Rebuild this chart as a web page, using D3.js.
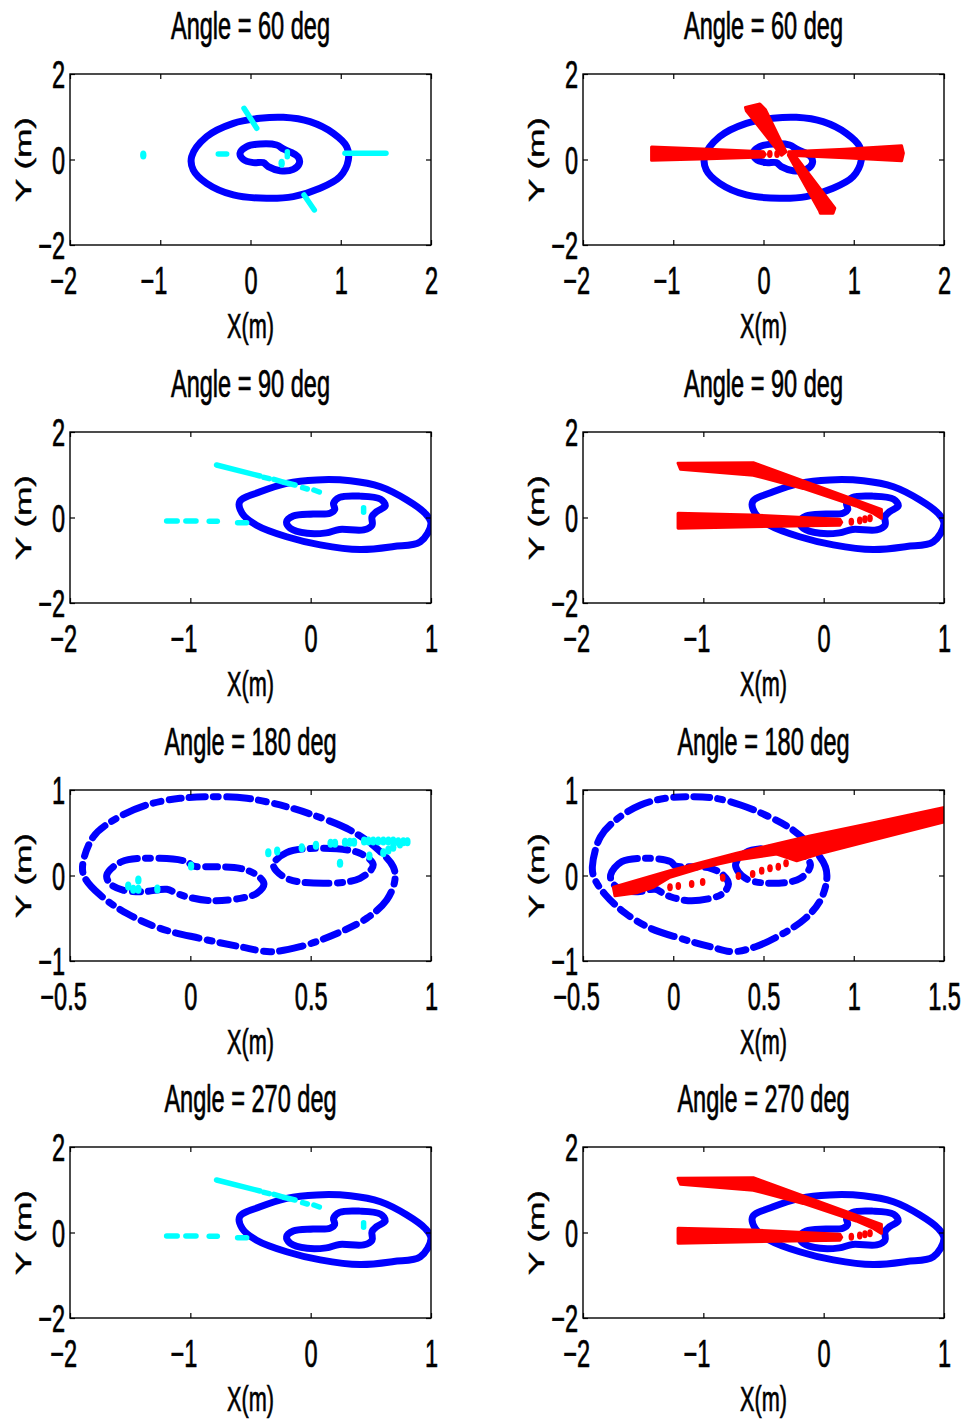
<!DOCTYPE html>
<html>
<head>
<meta charset="utf-8">
<script src="https://cdn.jsdelivr.net/npm/d3@7"></script>
<style>
  body { margin: 0; background: #fff; }
  text { stroke: #000; stroke-width: 0.7px; }
</style>
</head>
<body>
<svg id="fig" width="964" height="1428"></svg>
<script>
// ---- data ----
var titles = ["Angle = 60 deg", "Angle = 60 deg", "Angle = 90 deg", "Angle = 90 deg",
              "Angle = 180 deg", "Angle = 180 deg", "Angle = 270 deg", "Angle = 270 deg"];

var xTicks60 = [-2, -1, 0, 1, 2];
var xTicks90 = [-2, -1, 0, 1];
var xTicks180L = [-0.5, 0, 0.5, 1];
var xTicks180R = [-0.5, 0, 0.5, 1, 1.5];
var yTicks2 = [-2, 0, 2];
var yTicks1 = [-1, 0, 1];

// blue contours (x, y in metres)
var outer60 = [[-0.652,0.066],[-0.486,0.534],[-0.19,0.846],[0.105,0.963],[0.364,0.986],[0.659,0.885],
  [0.918,0.612],[1.066,0.3],[1.084,-0.012],[0.992,-0.402],[0.77,-0.674],[0.474,-0.869],[0.179,-0.908],
  [-0.19,-0.83],[-0.486,-0.558],[-0.634,-0.246]];
var inner60 = [[-0.116,0.145],[-0.042,0.3],[0.105,0.363],[0.29,0.339],[0.364,0.246],[0.456,0.16],
  [0.53,0.051],[0.541,-0.089],[0.474,-0.23],[0.327,-0.261],[0.197,-0.168],[0.142,-0.074],[0.031,-0.074],[-0.08,0.004]];

var outer90 = [[-0.59,0.37],[-0.42,0.6],[-0.2,0.8],[0.05,0.88],[0.33,0.86],[0.58,0.72],[0.8,0.41],
  [0.95,0.1],[1.0,-0.14],[0.91,-0.57],[0.69,-0.68],[0.41,-0.75],[0.08,-0.64],[-0.2,-0.45],[-0.45,-0.18],[-0.57,0.1]];
var inner90 = [[-0.2,-0.1],[-0.145,0.035],[0.02,0.08],[0.16,0.1],[0.2,0.19],[0.19,0.33],[0.24,0.47],
  [0.41,0.5],[0.58,0.43],[0.62,0.27],[0.55,0.14],[0.51,0.02],[0.51,-0.18],[0.44,-0.29],[0.24,-0.28],
  [0.13,-0.36],[-0.03,-0.37],[-0.17,-0.25]];

var outer180 = [[-0.448,0.103],[-0.403,0.454],[-0.306,0.669],[-0.181,0.825],[-0.043,0.903],[0.11,0.922],
  [0.235,0.903],[0.373,0.825],[0.51,0.708],[0.663,0.532],[0.774,0.318],[0.843,0.103],[0.85,-0.053],
  [0.816,-0.287],[0.733,-0.5],[0.594,-0.696],[0.456,-0.833],[0.331,-0.891],[0.207,-0.833],[0.04,-0.735],
  [-0.126,-0.618],[-0.265,-0.442],[-0.375,-0.228],[-0.437,-0.033]];
var innerL180 = [[-0.347,0.006],[-0.285,0.162],[-0.126,0.201],[-0.015,0.162],[0.012,0.111],[0.096,0.103],
  [0.207,0.084],[0.276,0.006],[0.306,-0.099],[0.276,-0.208],[0.207,-0.267],[0.082,-0.294],[-0.015,-0.248],
  [-0.057,-0.208],[-0.098,-0.161],[-0.195,-0.189],[-0.28,-0.17],[-0.335,-0.091]];
var innerR180 = [[0.345,0.123],[0.4,0.267],[0.553,0.318],[0.705,0.26],[0.76,0.123],[0.705,-0.033],
  [0.553,-0.091],[0.4,-0.033]];

// cyan marks: segments [x1, y1, x2, y2] and dots [x, y]
var cyan60Segs = [[-0.357,0.129,-0.264,0.129],[-0.072,1.198,0.069,0.73],[1.047,0.145,1.501,0.145],
  [0.593,-0.83,0.707,-1.18],[0.408,0.18,0.408,0.066]];
var cyan60Dots = [[-1.188,0.105],[0.345,-0.09]];

var cyan90Segs = [[-0.782,1.228,-0.421,0.971],[-0.388,0.94,-0.344,0.908],[-0.305,0.893,-0.249,0.846],
  [-0.233,0.83,-0.13,0.76],[-0.067,0.698,-0.028,0.667],[0.027,0.643,0.072,0.597],
  [-1.197,-0.082,-1.109,-0.082],[-1.037,-0.082,-0.953,-0.082],[-0.843,-0.09,-0.776,-0.09],
  [-0.607,-0.12,-0.532,-0.12],[0.44,0.23,0.44,0.12]];

var cyan180Dots = [[-0.258,-0.123],[-0.237,-0.162],[-0.216,-0.162],[-0.216,-0.053],[-0.137,-0.158],
  [0.003,0.111],[0.324,0.267],[0.361,0.287],[0.463,0.325],[0.522,0.353],[0.583,0.376],[0.601,0.376],
  [0.643,0.388],[0.663,0.388],[0.68,0.388],[0.722,0.403],[0.74,0.403],[0.76,0.403],[0.781,0.403],
  [0.802,0.403],[0.823,0.403],[0.843,0.403],[0.864,0.396],[0.885,0.396],[0.902,0.396],[0.871,0.368],
  [0.843,0.33],[0.823,0.298],[0.802,0.267],[0.744,0.228],[0.622,0.143]];

// red wedges (polygons) and red dots
var red60Wedges = [
  [[-1.24,0.29],[-0.6,0.24],[0.0,0.18],[0.02,0.12],[0.0,0.06],[-0.6,0.02],[-1.24,-0.02]],
  [[0.28,0.18],[0.9,0.24],[1.53,0.32],[1.55,0.15],[1.53,-0.03],[0.9,0.04],[0.28,0.1]],
  [[-0.2,1.22],[-0.04,1.3],[0.02,1.17],[0.25,0.18],[0.2,0.1],[-0.19,1.14]],
  [[0.275,0.105],[0.33,0.145],[0.79,-1.14],[0.77,-1.26],[0.63,-1.26],[0.62,-1.2]]
];
var red60Dots = [[0.07,0.13],[0.15,0.13]];

var red90Wedges = [
  [[-1.21,1.27],[-0.585,1.28],[0.48,0.19],[0.48,-0.02],[0.41,0.1],[0.27,0.27],[-0.17,0.68],
   [-0.585,0.99],[-1.19,1.13]],
  [[-1.21,0.1],[-0.6,0.06],[0.135,-0.04],[0.15,-0.11],[0.135,-0.18],[-0.6,-0.215],[-1.21,-0.25]]
];
var red90Dots = [[0.23,-0.1],[0.3,-0.07],[0.343,-0.04],[0.385,-0.02]];

var red180Wedge = [[-0.332,-0.138],[-0.018,0.056],[0.351,0.26],[0.758,0.462],[1.09,0.61],[1.506,0.797],
  [1.515,0.727],[1.506,0.63],[1.09,0.407],[0.831,0.267],[0.684,0.173],[0.573,0.251],[0.351,0.181],
  [0.167,0.096],[-0.018,-0.021],[-0.11,-0.138],[-0.2,-0.201],[-0.323,-0.236]];
var red180Dots = [[-0.018,-0.138],[0.028,-0.123],[0.102,-0.1],[0.163,-0.076],[0.274,-0.025],
  [0.361,-0.006],[0.44,0.018],[0.49,0.056],[0.536,0.084],[0.582,0.103],[0.625,0.142]];

// ---- layout ----
var svg = d3.select("#fig");
svg.append("rect").attr("width", 964).attr("height", 1428).attr("fill", "#fff");

var W = 361, H = 171;
var colX = [70, 583], rowY = [74, 432, 790, 1147];
var FS = 38, SX = 0.62;
var FONT = "Liberation Sans, Arial, Helvetica, sans-serif";

var panels = [
  {xt: xTicks60, yt: yTicks2, blue: [outer60, inner60], cyanSegs: cyan60Segs, cyanDots: cyan60Dots},
  {xt: xTicks60, yt: yTicks2, blue: [outer60, inner60], red: red60Wedges, redDots: red60Dots},
  {xt: xTicks90, yt: yTicks2, blue: [outer90, inner90], cyanSegs: cyan90Segs, cyanDots: []},
  {xt: xTicks90, yt: yTicks2, blue: [outer90, inner90], red: red90Wedges, redDots: red90Dots},
  {xt: xTicks180L, yt: yTicks1, blue: [outer180, innerL180, innerR180], cyanDots: cyan180Dots, dotted: true},
  {xt: xTicks180R, yt: yTicks1, blue: [outer180, innerL180, innerR180], red: [red180Wedge], redDots: red180Dots, dotted: true},
  {xt: xTicks90, yt: yTicks2, blue: [outer90, inner90], cyanSegs: cyan90Segs, cyanDots: []},
  {xt: xTicks90, yt: yTicks2, blue: [outer90, inner90], red: red90Wedges, redDots: red90Dots}
];

var fmt = function(d) { return (d < 0 ? "\u2212" : "") + Math.abs(d); };

// width of the minus sign, so the digits sit centred on the tick
var tmp = svg.append("text").attr("font-family", FONT).attr("font-size", FS).text("\u2212");
var minusW = tmp.node().getComputedTextLength() * SX;
tmp.remove();

panels.forEach(function(p, i) {
  var left = colX[i % 2], top = rowY[Math.floor(i / 2)];
  var x = d3.scaleLinear().domain(d3.extent(p.xt)).range([0, W]);
  var y = d3.scaleLinear().domain(d3.extent(p.yt)).range([H, 0]);

  var g = svg.append("g").attr("transform", "translate(" + left + "," + top + ")");
  g.append("clipPath").attr("id", "clip" + i)
    .append("rect").attr("width", W).attr("height", H);
  var plot = g.append("g").attr("clip-path", "url(#clip" + i + ")");

  var smooth = d3.line().x(function(d) { return x(d[0]); }).y(function(d) { return y(d[1]); })
    .curve(d3.curveCatmullRomClosed.alpha(0.5));
  var poly = d3.line().x(function(d) { return x(d[0]); }).y(function(d) { return y(d[1]); })
    .curve(d3.curveLinearClosed);

  // dotted rows: round-capped dashes with small gaps, like clumps of beads
  plot.selectAll(".blue").data(p.blue).enter().append("path")
    .attr("d", smooth)
    .attr("fill", "none")
    .attr("stroke", "#0000ff")
    .attr("stroke-width", 7)
    .attr("stroke-linejoin", "round")
    .attr("stroke-linecap", p.dotted ? "round" : null)
    .attr("stroke-dasharray", p.dotted ? "16 8 5 8.5 24 8 8 8.5 12 8" : null);

  if (p.cyanSegs) {
    plot.selectAll(".cseg").data(p.cyanSegs).enter().append("line")
      .attr("x1", function(d) { return x(d[0]); }).attr("y1", function(d) { return y(d[1]); })
      .attr("x2", function(d) { return x(d[2]); }).attr("y2", function(d) { return y(d[3]); })
      .attr("stroke", "#00ffff").attr("stroke-width", 5.5).attr("stroke-linecap", "round");
  }
  if (p.cyanDots) {
    plot.selectAll(".cdot").data(p.cyanDots).enter().append("ellipse")
      .attr("cx", function(d) { return x(d[0]); }).attr("cy", function(d) { return y(d[1]); })
      .attr("rx", 3.2).attr("ry", 4.5).attr("fill", "#00ffff");
  }
  if (p.red) {
    plot.selectAll(".rw").data(p.red).enter().append("path")
      .attr("d", poly)
      .attr("fill", "#ff0000").attr("stroke", "#ff0000")
      .attr("stroke-width", 3).attr("stroke-linejoin", "round");
    plot.selectAll(".rdot").data(p.redDots).enter().append("ellipse")
      .attr("cx", function(d) { return x(d[0]); }).attr("cy", function(d) { return y(d[1]); })
      .attr("rx", 2.8).attr("ry", 4).attr("fill", "#ff0000");
  }

  // axes: ticks pointing inwards on all four sides
  var bottom = g.append("g").attr("transform", "translate(0," + H + ")")
    .call(d3.axisBottom(x).tickValues(p.xt).tickSize(-5).tickSizeOuter(0).tickFormat(fmt));
  var topAx = g.append("g")
    .call(d3.axisTop(x).tickValues(p.xt).tickSize(-5).tickSizeOuter(0).tickFormat(""));
  var leftAx = g.append("g")
    .call(d3.axisLeft(y).tickValues(p.yt).tickSize(-5).tickSizeOuter(0).tickFormat(fmt));
  var rightAx = g.append("g").attr("transform", "translate(" + W + ",0)")
    .call(d3.axisRight(y).tickValues(p.yt).tickSize(-5).tickSizeOuter(0).tickFormat(""));

  [bottom, topAx, leftAx, rightAx].forEach(function(a) {
    a.select(".domain").remove();
    a.selectAll("line").attr("stroke", "#000").attr("stroke-width", 1.2);
    a.attr("font-family", FONT).attr("font-size", FS);
  });

  bottom.selectAll("text")
    .attr("x", 0).attr("y", 0).attr("dy", null)
    .attr("fill", "#000").attr("text-anchor", "middle")
    .attr("transform", function(d) {
      return "translate(" + (d < 0 ? -minusW / 2 : 0) + ",49) scale(" + SX + ",1)";
    });
  leftAx.selectAll("text")
    .attr("x", 0).attr("dy", "0.36em")
    .attr("fill", "#000").attr("text-anchor", "end")
    .attr("transform", "translate(-5,0) scale(" + SX + ",1)");

  g.append("rect").attr("width", W).attr("height", H)
    .attr("fill", "none").attr("stroke", "#000").attr("stroke-width", 1.4);

  g.append("text")
    .attr("transform", "translate(" + (W / 2) + ",-35) scale(" + SX + ",1)")
    .attr("text-anchor", "middle").attr("font-family", FONT).attr("font-size", FS)
    .text(titles[i]);

  g.append("text")
    .attr("transform", "translate(" + (W / 2) + "," + (H + 93) + ") scale(" + SX + ",1)")
    .attr("text-anchor", "middle").attr("font-family", FONT).attr("font-size", 35)
    .text("X(m)");

  g.append("text")
    .attr("transform", "translate(-39," + (H / 2) + ") scale(" + SX + ",1) rotate(-90)")
    .attr("text-anchor", "middle").attr("font-family", FONT).attr("font-size", 35)
    .text("Y (m)");
});
</script>
</body>
</html>
